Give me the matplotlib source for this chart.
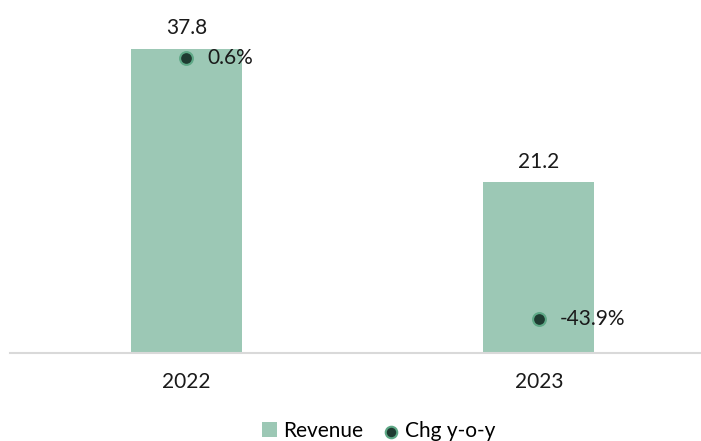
import matplotlib.pyplot as plt

plt.rcParams['font.family'] = ['Lato', 'DejaVu Sans']

years = ['2022', '2023']
revenue = [37.8, 21.2]
chg_yoy = [0.6, -43.9]

bar_color = '#9cc8b5'
dot_face = '#1f3b31'
dot_edge = '#5ea886'
text_color = '#1a1a1a'
fs = 15

fig = plt.figure(figsize=(7.01, 4.41), dpi=100)
ax = fig.add_axes([10/701, (441-353)/441, 691/701, 353/441])
x = range(len(years))

bars = ax.bar(x, revenue, width=0.315, color=bar_color, label='Revenue', zorder=2)
for xi, v in zip(x, revenue):
    ax.text(xi, v + 1.3, f'{v:.1f}', ha='center', va='bottom', fontsize=fs, color=text_color)

ax.set_xlim(-0.5, 1.4596)
ax.set_ylim(0, 353/8.05)
ax.set_yticks([])
ax.set_xticks(list(x))
ax.set_xticklabels(years, fontsize=fs, color=text_color)
ax.tick_params(axis='x', length=0, pad=14)
for s in ['top', 'right', 'left']:
    ax.spines[s].set_visible(False)
ax.spines['bottom'].set_color('#d9d9d9')
ax.spines['bottom'].set_linewidth(1.5)
ax.patch.set_alpha(0)

# growth on a second axis
ax2 = ax.twinx()
ax2.set_ylim(-(353-61.5)/5.865, 61.5/5.865)
pts = ax2.scatter(x, chg_yoy, s=85, color=dot_face, edgecolors=dot_edge, linewidths=1.5,
                  label='Chg y-o-y', zorder=3)
for xi, v in zip(x, chg_yoy):
    ax2.annotate(f'{v:.1f}%', (xi, v), xytext=(15, 0), textcoords='offset points',
                 ha='left', va='center', fontsize=fs, color=text_color)
ax2.set_yticks([])
for s in ax2.spines.values():
    s.set_visible(False)

fig.legend([bars, pts], ['Revenue', 'Chg y-o-y'], loc='center', bbox_to_anchor=(0.54, 1 - 431/441),
           ncol=2, frameon=False, prop={'size': fs}, handlelength=0.7,
           handletextpad=0.3, columnspacing=1.0, markerscale=0.9)

fig.savefig('out.png', dpi=100)
